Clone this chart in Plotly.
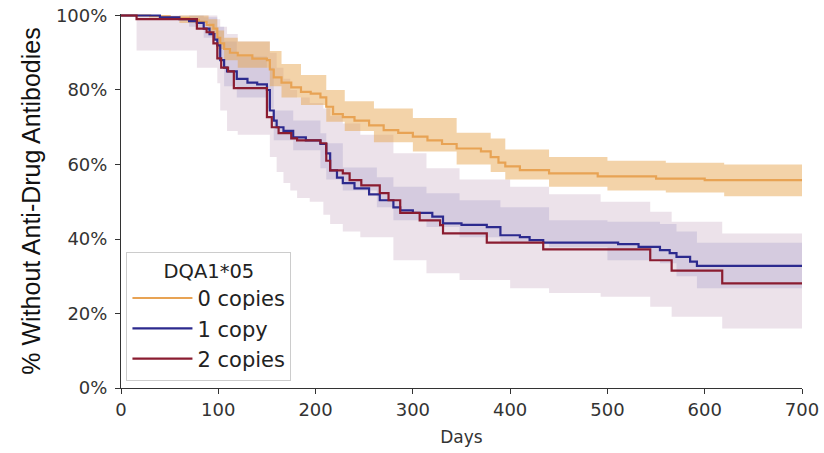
import plotly.graph_objects as go

# ---------------- data ----------------
groups = ["0 copies", "1 copy", "2 copies"]

# 0 copies (orange) survival curve
t0 = [0, 30, 50, 60, 70, 80, 88, 95, 99, 102, 106, 112, 120, 135, 150, 153, 157, 165, 175, 185,
      195, 205, 211, 218, 228, 240, 255, 270, 285, 300, 315, 330, 345, 370, 380, 388, 395, 410,
      440, 490, 550, 600, 700]
s0 = [100, 99.8, 99.5, 99.2, 98.8, 98.3, 97.5, 96.5, 94, 92.5, 91, 90, 89.3, 88.4, 88, 85.5, 83.4,
      82, 80.7, 79.5, 79, 78, 75.5, 73.5, 72.7, 71.8, 70.5, 69.2, 68.5, 67.5, 66.5, 65.5, 64.3,
      63.5, 62, 60.5, 59.5, 58.5, 57.6, 56.8, 56.2, 55.8, 55.8]
b0_t = [0, 60, 90, 99, 106, 120, 153, 165, 185, 211, 230, 260, 300, 345, 380, 395, 440, 500,
        560, 620, 700]
b0_hi = [100, 100, 99, 96, 94, 93, 90.5, 87, 84, 80, 77, 75, 72.5, 68.5, 67, 64, 62, 61, 60.5, 60, 60]
b0_lo = [100, 98, 95, 91, 88, 86, 81, 78, 76, 71.5, 69, 66, 63.5, 60, 58, 56, 54, 53, 52.5, 51.5, 51.5]

# 1 copy (blue) survival curve
t1 = [0, 40, 60, 70, 78, 85, 91, 96, 99, 102, 106, 109, 119, 130, 140, 150, 153, 157, 160, 167,
      177, 190, 205, 211, 215, 222, 228, 240, 255, 266, 280, 287, 300, 320, 331, 350, 376, 390,
      410, 420, 434, 511, 532, 554, 564, 571, 585, 592, 700]
s1 = [100, 99.5, 99, 98.5, 98, 96.5, 95, 93.5, 92, 88, 86, 85, 83, 82, 81.5, 80, 74.5, 71.8, 70,
      69, 67.3, 66.5, 65.5, 63, 58.4, 56.5, 55, 53.6, 52, 50.4, 48.5, 47.7, 47, 46, 44.2, 43.8,
      43.2, 41, 40.5, 39.7, 39, 38.6, 37.9, 37, 36.2, 35.2, 33.9, 32.8, 32.8]
b1_t = [0, 70, 85, 99, 106, 119, 150, 157, 177, 205, 211, 228, 263, 280, 314, 348, 390, 440,
        500, 554, 571, 592, 700]
b1_hi = [100, 100, 99.5, 97, 93, 89, 86, 74.5, 71.8, 68.4, 65.7, 59.2, 56.6, 54, 52.3, 50.4,
         48.5, 45, 44.6, 44, 42, 39, 39]
b1_lo = [100, 97, 94, 88, 81, 78, 75, 66.5, 63.8, 59, 56, 53, 48.5, 45, 43.2, 40.5, 38.9, 37.8,
         34.3, 33.5, 30, 26.8, 26.8]

# 2 copies (dark red) survival curve
t2 = [0, 16, 78, 88, 95, 99, 103, 110, 116, 150, 155, 162, 175, 181, 205, 211, 215, 228, 235,
      247, 266, 275, 287, 307, 328, 331, 376, 434, 544, 566, 618, 700]
s2 = [100, 99, 96.5, 95.5, 92.5, 88.5, 86, 85, 80.5, 72.7, 70, 68.4, 67, 66.5, 65.7, 61, 58.4,
      57.6, 55.8, 54.4, 52.3, 50.4, 47, 45, 43.7, 41.5, 39, 37.2, 34.3, 31.5, 28.1, 28.1]
b2_t = [0, 16, 78, 99, 102, 109, 120, 153, 160, 167, 174, 181, 194, 208, 215, 228, 246, 280,
        314, 348, 400, 440, 493, 544, 566, 618, 700]
b2_hi = [100, 100, 100, 99, 97, 95, 93, 90, 86, 83, 80, 78, 76.5, 75, 73, 71, 68, 63, 59, 56,
         54, 52, 50, 47.3, 44.6, 41.5, 41.5]
b2_lo = [100, 90.6, 86, 81.8, 74.5, 69, 68, 62, 58, 55, 53, 51, 50, 46.5, 44, 42, 40.5, 34.3,
         30.8, 29, 26.8, 25.5, 24.5, 21.8, 19.1, 16, 16]

x_ticks = [0, 100, 200, 300, 400, 500, 600, 700]
y_ticks = [0, 20, 40, 60, 80, 100]
y_tick_labels = ["0%", "20%", "40%", "60%", "80%", "100%"]

# ---------------- style ----------------
line_colors = ["#E8A354", "#2C2A8E", "#8A1C30"]
band_colors = ["rgba(230,162,75,0.48)", "rgba(95,85,165,0.16)", "rgba(128,62,115,0.15)"]

fig = go.Figure()


def add_band(t, lo, hi, color):
    fig.add_trace(go.Scatter(x=t, y=[v / 100 for v in lo], mode="lines", line=dict(width=0, shape="hv"),
                             showlegend=False, hoverinfo="skip"))
    fig.add_trace(go.Scatter(x=t, y=[v / 100 for v in hi], mode="lines", line=dict(width=0, shape="hv"),
                             fill="tonexty", fillcolor=color, showlegend=False, hoverinfo="skip"))


add_band(b2_t, b2_lo, b2_hi, band_colors[2])
add_band(b1_t, b1_lo, b1_hi, band_colors[1])
add_band(b0_t, b0_lo, b0_hi, band_colors[0])

for name, t, s, c in [(groups[0], t0, s0, line_colors[0]),
                      (groups[1], t1, s1, line_colors[1]),
                      (groups[2], t2, s2, line_colors[2])]:
    fig.add_trace(go.Scatter(x=t, y=[v / 100 for v in s], mode="lines", name=name,
                             line=dict(color=c, width=2.2, shape="hv")))

tick_font = dict(family="DejaVu Sans", size=18, color="#333333")

fig.update_layout(
    width=824, height=453,
    margin=dict(l=121, r=22, t=14, b=65),
    paper_bgcolor="white", plot_bgcolor="white",
    showlegend=True,
    legend=dict(
        title=dict(text="DQA1*05", side="top center", font=dict(family="DejaVu Sans", size=19.5, color="#222")),
        font=dict(family="DejaVu Sans", size=21, color="#222"),
        traceorder="normal",
        x=0.008, y=0.02, xanchor="left", yanchor="bottom",
        bgcolor="rgba(255,255,255,0.9)", bordercolor="#cccccc", borderwidth=1,
        itemwidth=60, tracegroupgap=0,
    ),
    xaxis=dict(
        range=[0, 700], tickvals=x_ticks, ticks="outside", ticklen=5, tickcolor="#333",
        showline=True, linecolor="#333", linewidth=1, showgrid=False, zeroline=False,
        tickfont=tick_font, automargin=False, ticklabeloverflow="allow",
        title=dict(text="Days", font=dict(family="DejaVu Sans", size=17, color="#333"), standoff=12),
    ),
    yaxis=dict(
        range=[0, 1.004], tickvals=[v / 100 for v in y_ticks], ticktext=y_tick_labels,
        ticks="outside", ticklen=5, tickcolor="#333", ticklabelstandoff=4,
        showline=True, linecolor="#333", linewidth=1, showgrid=False, zeroline=False,
        tickfont=tick_font, automargin=False, ticklabeloverflow="allow",
        title=dict(text="% Without Anti-Drug Antibodies",
                   font=dict(family="Liberation Sans", size=25, color="#111"), standoff=8),
    ),
)

# remove the default 8px page margin so the figure fills the window exactly
fig.write_html("out.html", config={"displayModeBar": False},
               post_script="document.body.style.margin='0';")
